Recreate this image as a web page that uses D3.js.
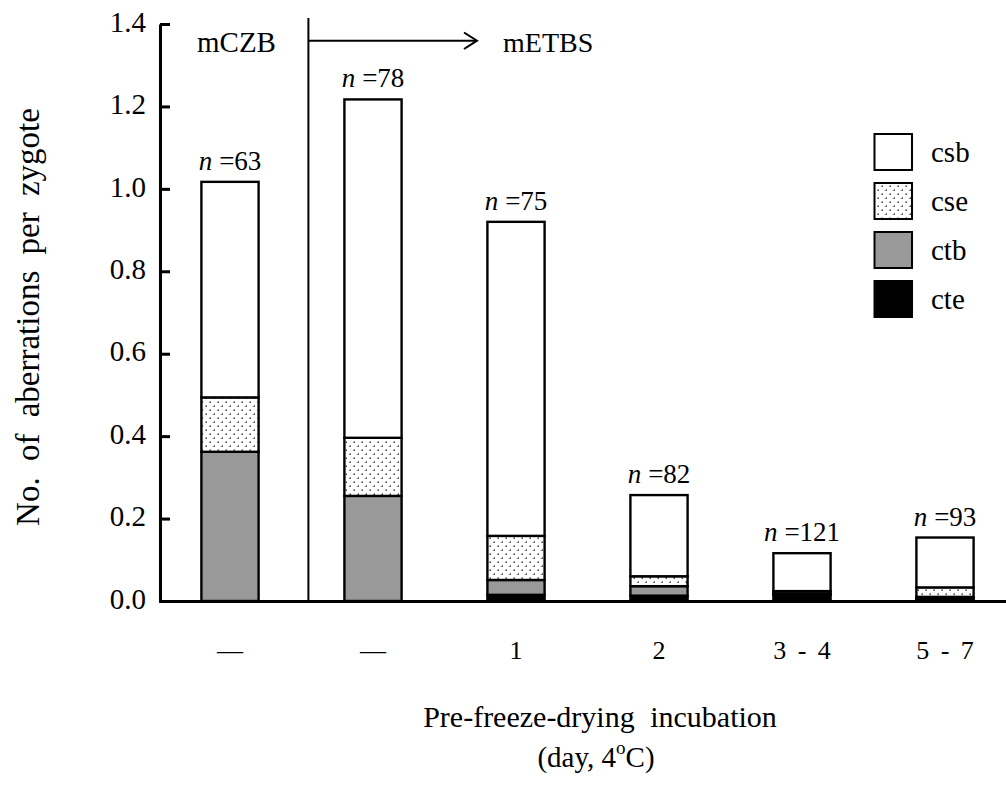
<!DOCTYPE html>
<html>
<head>
<meta charset="utf-8">
<script src="https://cdn.jsdelivr.net/npm/d3@7"></script>
<style>
  html, body { margin: 0; padding: 0; background: #fff; }
  svg { display: block; font-family: "Liberation Serif", "Times New Roman", serif; }
</style>
</head>
<body>
<svg id="chart" width="1006" height="785"></svg>
<script>
// ---- data ----
const categories = ["—", "—", "1", "2", "3 - 4", "5 - 7"];
const nLabels = ["63", "78", "75", "82", "121", "93"];
const seriesNames = ["cte", "ctb", "cse", "csb"];           // stacking order, bottom -> top
const cte = [0, 0, 0.015, 0.013, 0.015, 0.005];
const ctb = [0.362, 0.255, 0.036, 0.023, 0.003, 0.005];
const cse = [0.132, 0.141, 0.107, 0.024, 0.006, 0.023];
const csb = [0.523, 0.821, 0.762, 0.197, 0.092, 0.121];
const yTicks = [0, 0.2, 0.4, 0.6, 0.8, 1.0, 1.2, 1.4];
const legendOrder = ["csb", "cse", "ctb", "cte"];

(function () {
const FONT = "Liberation Serif, Times New Roman, serif";
// ---- build table ----
const seriesValues = { cte, ctb, cse, csb };
const rows = categories.map((c, i) => {
  const r = { idx: i, label: c, n: nLabels[i] };
  seriesNames.forEach(s => r[s] = seriesValues[s][i]);
  return r;
});
const stacked = d3.stack().keys(seriesNames)(rows);

const svg = d3.select("#chart");
const defs = svg.append("defs");
const pat = defs.append("pattern").attr("id", "dots")
  .attr("width", 8).attr("height", 8).attr("patternUnits", "userSpaceOnUse");
pat.append("rect").attr("width", 8).attr("height", 8).attr("fill", "#fff");
pat.append("rect").attr("x", 1.5).attr("y", 1.5).attr("width", 1.4).attr("height", 1.4).attr("fill", "#222");
pat.append("rect").attr("x", 5.5).attr("y", 5.5).attr("width", 1.4).attr("height", 1.4).attr("fill", "#222");

const fills = { csb: "#ffffff", cse: "url(#dots)", ctb: "#999999", cte: "#000000" };

// ---- scales ----
const x = d3.scaleBand().domain(d3.range(categories.length))
  .range([158.5, 1016.5]).paddingInner(0.6).paddingOuter(0.3);
const y = d3.scaleLinear().domain([0, 1.4]).range([601, 24]);

// ---- bars ----
const gBars = svg.append("g");
stacked.forEach(layer => {
  gBars.selectAll(null).data(layer).enter().append("rect")
    .attr("x", d => x(d.data.idx))
    .attr("width", x.bandwidth())
    .attr("y", d => y(d[1]))
    .attr("height", d => Math.max(0, y(d[0]) - y(d[1])))
    .attr("fill", fills[layer.key])
    .attr("stroke", "#000")
    .attr("stroke-width", 2.4)
    .attr("display", d => (d[1] - d[0]) > 0 ? null : "none");
});

// ---- n labels ----
const topLayer = stacked[stacked.length - 1];
const nText = svg.append("g").selectAll("text").data(topLayer).enter().append("text")
  .attr("x", d => x(d.data.idx) + x.bandwidth() / 2)
  .attr("y", d => y(d[1]) - 12)
  .attr("text-anchor", "middle")
  .attr("font-size", 27);
nText.append("tspan").attr("font-style", "italic").text("n");
nText.append("tspan").attr("dx", 7).text(d => "=" + d.data.n);

// ---- y axis ----
const yAxis = d3.axisLeft(y).tickValues(yTicks).tickFormat(d3.format(".1f"))
  .tickSizeInner(-10).tickSizeOuter(0).tickPadding(14);
const gy = svg.append("g").attr("transform", "translate(160,0)").call(yAxis);
gy.select(".domain").attr("stroke-width", 3);
gy.selectAll(".tick line").attr("stroke-width", 3);
gy.selectAll(".tick text").attr("font-size", 29).attr("font-family", FONT)
  .attr("dy", "0.25em").attr("fill", "#000");

// ---- x axis ----
const xAxis = d3.axisBottom(x).tickFormat(i => categories[i]).tickSize(0).tickSizeOuter(0);
const gx = svg.append("g").attr("transform", "translate(0,601)").call(xAxis);
gx.select(".domain").attr("stroke-width", 3);
gx.selectAll(".tick text").attr("font-size", 26).attr("font-family", FONT)
  .attr("y", 58).attr("dy", 0).attr("fill", "#000")
  .attr("word-spacing", 5);

// ---- divider & arrow ----
const divX = x(1) - 36;
svg.append("line").attr("x1", divX).attr("x2", divX).attr("y1", 18).attr("y2", 600)
  .attr("stroke", "#000").attr("stroke-width", 2);
svg.append("line").attr("x1", divX).attr("x2", 477).attr("y1", 40.7).attr("y2", 40.7)
  .attr("stroke", "#000").attr("stroke-width", 2);
svg.append("polyline").attr("points", "464,32.5 477,40.7 464,49")
  .attr("fill", "none").attr("stroke", "#000").attr("stroke-width", 2);

svg.append("text").attr("x", 197).attr("y", 52).attr("font-size", 29).text("mCZB");
svg.append("text").attr("x", 503).attr("y", 52).attr("font-size", 28).text("mETBS");

// ---- legend ----
const gl = svg.append("g");
legendOrder.forEach((k, i) => {
  const ly = 134 + i * 49;
  gl.append("rect").attr("x", 874.5).attr("y", ly).attr("width", 37.5).attr("height", 36)
    .attr("fill", fills[k]).attr("stroke", "#000").attr("stroke-width", 2);
  gl.append("text").attr("x", 931).attr("y", ly + 28).attr("font-size", 29).text(k);
});

// ---- axis titles ----
svg.append("text").attr("transform", "translate(39,317) rotate(-90)")
  .attr("text-anchor", "middle").attr("font-size", 33)
  .attr("word-spacing", 8)
  .text("No. of aberrations per zygote");

svg.append("text").attr("x", 600).attr("y", 727).attr("text-anchor", "middle")
  .attr("font-size", 30).attr("word-spacing", 8)
  .text("Pre-freeze-drying incubation");

const t2 = svg.append("text").attr("x", 596).attr("y", 767).attr("text-anchor", "middle").attr("font-size", 29);
t2.append("tspan").text("(day, 4");
t2.append("tspan").attr("font-size", 19).attr("dy", -13).text("o");
t2.append("tspan").attr("dy", 13).text("C)");
})();
</script>
</body>
</html>
